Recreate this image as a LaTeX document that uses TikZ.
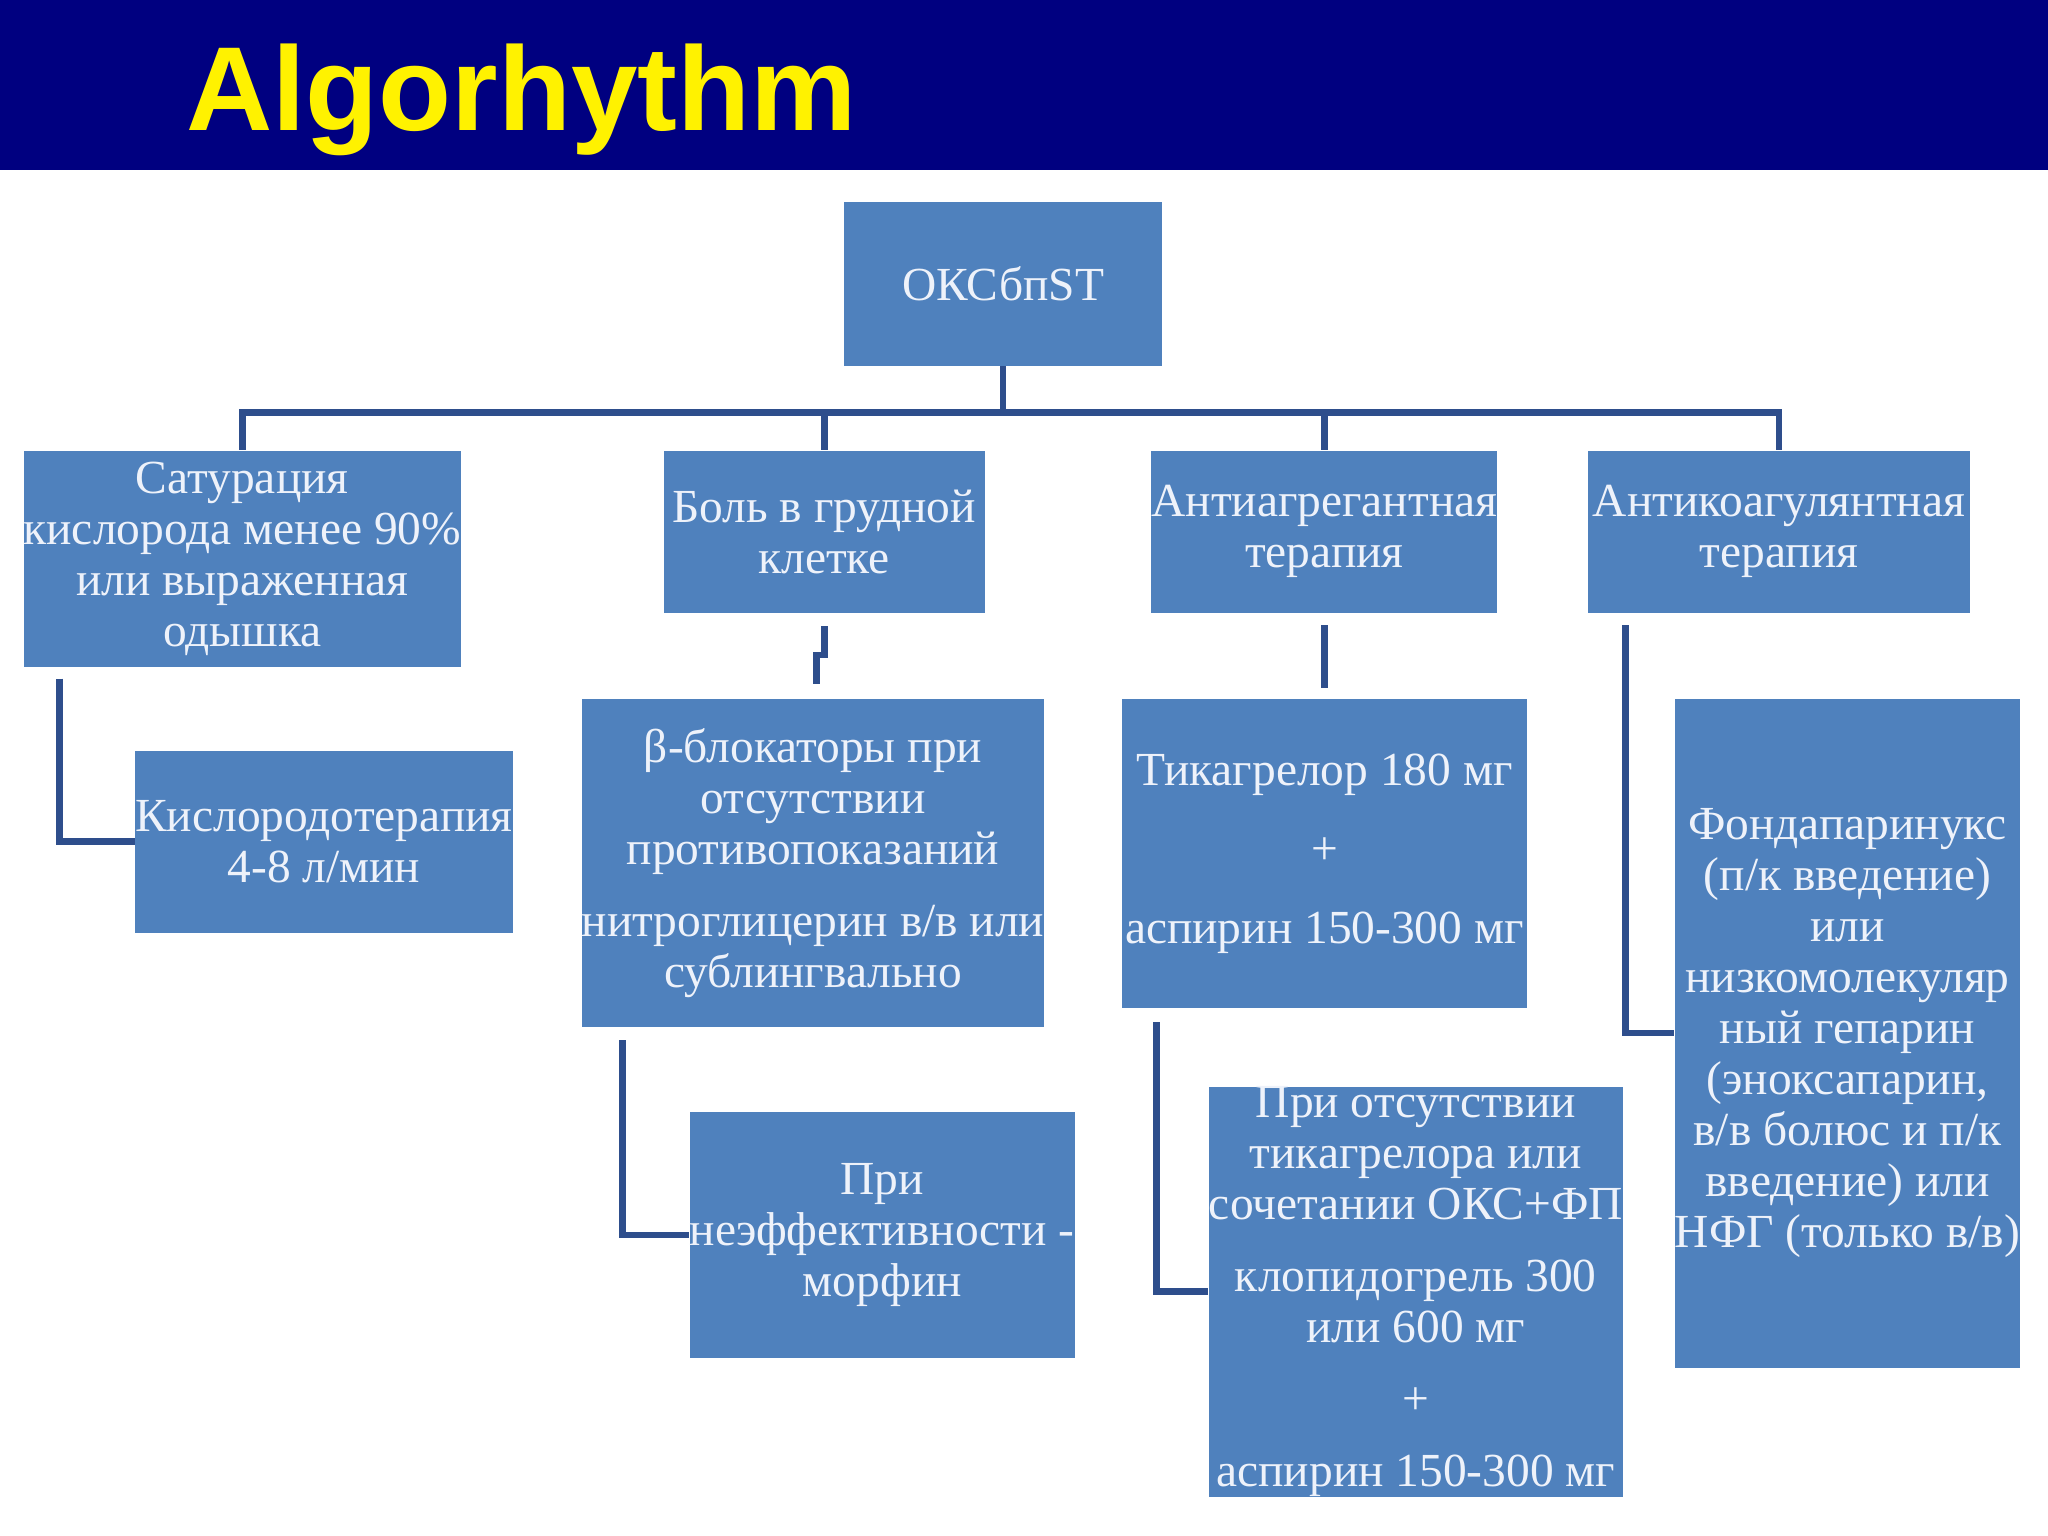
\documentclass[tikz,border=0pt]{standalone}
\usepackage{fontspec}
\setmainfont{Liberation Serif}
\newfontfamily\titlefont{Liberation Sans}
\usetikzlibrary{calc}
\definecolor{navy}{HTML}{000080}
\definecolor{boxblue}{HTML}{4F81BD}
\definecolor{linec}{HTML}{2E4E8C}
\definecolor{txt}{HTML}{EEF2FA}
\newcommand\bx[6]{\node[box, minimum width={(#4-#2)*0.013061cm}, minimum height={(#5-#3)*0.013061cm}] (#1) at ({(#2+#4)/2},{(#3+#5)/2}) {#6};}
\begin{document}
\begin{tikzpicture}[x=0.013061cm,y=-0.013061cm,
  box/.style={fill=boxblue, draw=none, inner sep=0pt, align=center, text=txt,
    font=\fontsize{13.5}{14.5}\selectfont},
  conn/.style={draw=linec, line width=1.9pt}]
\useasboundingbox (0,0) rectangle (1568,1176);
\fill[white] (0,0) rectangle (1568,1176);
\fill[navy] (0,0) rectangle (1568,130);
\node[anchor=base west, text=yellow, inner sep=0pt, font=\titlefont\bfseries\fontsize{34}{40}\selectfont] (title) at (142,100) {Algorhythm};
\bx{okc}{646}{155}{890}{280}{ОКСбпST}
\bx{sat}{28}{345}{343}{511}{Сатурация\\кислорода менее 90\%\\или выраженная\\одышка}
\bx{bol}{508}{345}{754}{469}{Боль в грудной\\клетке}
\bx{anti}{891}{345}{1137}{469}{Антиагрегантная\\терапия}
\bx{koag}{1216}{345}{1508}{469}{Антикоагулянтная\\терапия}
\bx{kis}{110}{575}{386}{714}{Кислородотерапия\\4-8 л/мин}
\bx{beta}{448}{535}{797}{786}{β-блокаторы при\\отсутствии\\противопоказаний\\[6pt]нитроглицерин  в/в или\\сублингвально}
\bx{neef}{538}{851}{813}{1040}{При\\неэффективности -\\морфин}
\bx{tik}{859}{535}{1169}{772}{Тикагрелор 180 мг\\[8pt]+\\[8pt]аспирин 150-300 мг}
\bx{pri}{938}{838}{1230}{1140}{При отсутствии\\тикагрелора или\\сочетании ОКС+ФП\\[6pt]клопидогрель 300\\или 600 мг\\[6pt]+\\[6pt]аспирин 150-300 мг}
\bx{fond}{1292}{535}{1537}{1047}{Фондапаринукс\\(п/к введение)\\или\\низкомолекуляр\\ный гепарин\\(эноксапарин,\\в/в болюс и п/к\\введение)  или\\НФГ (только в/в)}
\coordinate (bus) at (768,316);
\draw[conn] (okc.south) -- (bus);
\draw[conn] (sat.north) -- (sat.north|-bus) -- (koag.north|-bus) -- (koag.north);
\draw[conn] (bol.north|-bus) -- (bol.north);
\draw[conn] (anti.north|-bus) -- (anti.north);
\draw[conn] ($(sat.south west)+(28,8)$) |- (kis.west);
\draw[conn] ($(bol.south)+(0,10)$) -- ($(bol.south)+(0,32)$) -- ($(bol.south)+(-6,32)$) -- ($(bol.south)+(-6,54)$);
\draw[conn] ($(beta.south west)+(32,10)$) |- (neef.west);
\draw[conn] ($(anti.south)+(0,9)$) -- ($(tik.north)+(0,-8)$);
\draw[conn] ($(tik.south west)+(27,10)$) |- (pri.west);
\draw[conn] ($(koag.south west)+(29,9)$) |- (fond.west);
\end{tikzpicture}
\end{document}
